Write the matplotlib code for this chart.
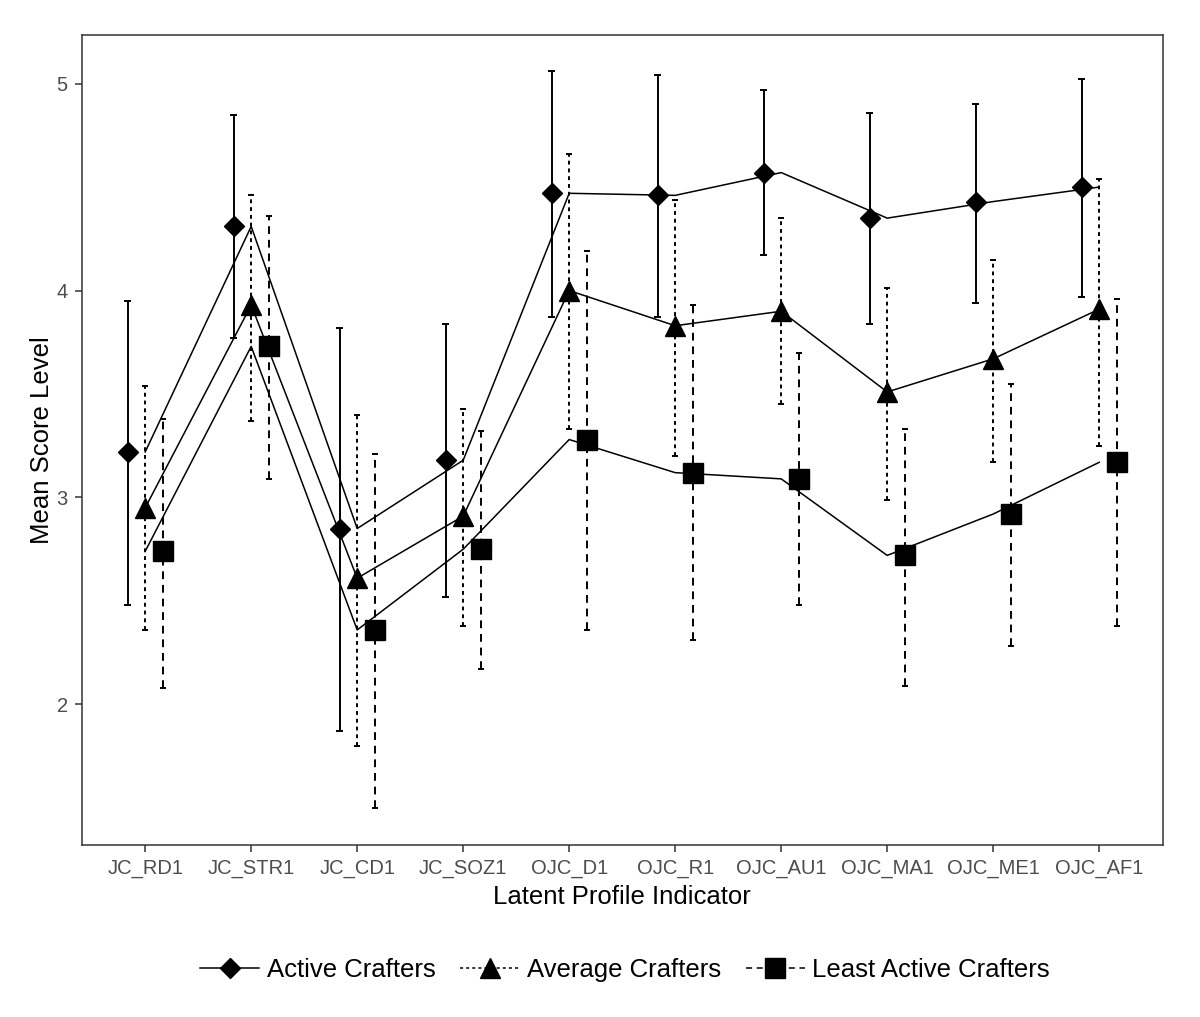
import matplotlib.pyplot as plt
import numpy as np

plt.rcParams['font.family'] = ['Liberation Sans', 'DejaVu Sans']

indicators = ["JC_RD1", "JC_STR1", "JC_CD1", "JC_SOZ1", "OJC_D1",
              "OJC_R1", "OJC_AU1", "OJC_MA1", "OJC_ME1", "OJC_AF1"]
groups = ["Active Crafters", "Average Crafters", "Least Active Crafters"]

active_mean = [3.22, 4.31, 2.85, 3.18, 4.47, 4.46, 4.57, 4.35, 4.43, 4.50]
active_low = [2.48, 3.77, 1.87, 2.52, 3.87, 3.87, 4.17, 3.84, 3.94, 3.97]
active_high = [3.95, 4.85, 3.82, 3.84, 5.06, 5.04, 4.97, 4.86, 4.90, 5.02]

average_mean = [2.95, 3.93, 2.61, 2.91, 4.00, 3.83, 3.90, 3.51, 3.67, 3.91]
average_low = [2.36, 3.37, 1.80, 2.38, 3.33, 3.20, 3.45, 2.99, 3.17, 3.25]
average_high = [3.54, 4.46, 3.40, 3.43, 4.66, 4.44, 4.35, 4.01, 4.15, 4.54]

least_mean = [2.74, 3.73, 2.36, 2.75, 3.28, 3.12, 3.09, 2.72, 2.92, 3.17]
least_low = [2.08, 3.09, 1.50, 2.17, 2.36, 2.31, 2.48, 2.09, 2.28, 2.38]
least_high = [3.38, 4.36, 3.21, 3.32, 4.19, 3.93, 3.70, 3.33, 3.55, 3.96]

means = [active_mean, average_mean, least_mean]
lows = [active_low, average_low, least_low]
highs = [active_high, average_high, least_high]
markers = ["D", "^", "s"]
msizes = [10, 15, 14]
styles = ["-", (0, (2, 2)), (0, (4, 3))]

fig = plt.figure(figsize=(12, 10.17), dpi=100)
ax = fig.add_axes([0.068, 0.169, 0.901, 0.797])

x = np.arange(1, len(indicators) + 1)
dodge = [-1 / 6, 0, 1 / 6]
cap = 0.03

for i in range(3):
    m = np.array(means[i])
    lo = np.array(lows[i])
    hi = np.array(highs[i])
    xd = x + dodge[i]
    # connecting line sits on the undodged positions
    ax.plot(x, m, color="black", lw=1.1, zorder=2)
    ax.vlines(xd, lo, hi, color="black", lw=1.4, linestyles=[styles[i]], zorder=2)
    ax.hlines(lo, xd - cap, xd + cap, color="black", lw=1.4, zorder=2)
    ax.hlines(hi, xd - cap, xd + cap, color="black", lw=1.4, zorder=2)
    ax.plot(xd, m, linestyle="none", marker=markers[i], ms=msizes[i],
            color="black", zorder=3)

ax.set_xlim(0.4, 10.6)
ax.set_ylim(1.32, 5.237)
ax.set_xticks(x)
ax.set_xticklabels(indicators)
ax.set_yticks([2, 3, 4, 5])
ax.tick_params(axis="both", labelsize=14.5, colors="#333333", length=5, width=1.1,
               pad=5)
ax.tick_params(axis="both", labelcolor="#4d4d4d")
for sp in ax.spines.values():
    sp.set_color("#333333")
    sp.set_linewidth(1.1)

ax.set_xlabel("Latent Profile Indicator", fontsize=18.5, labelpad=5)
ax.set_ylabel("Mean Score Level", fontsize=18.5, labelpad=2)

handles = []
for i in range(3):
    h, = ax.plot([], [], color="black", lw=1.1, linestyle=styles[i],
                 marker=markers[i], ms=msizes[i])
    handles.append(h)
fig.legend(handles, groups, loc="center", bbox_to_anchor=(0.521, 0.046),
           ncol=3, frameon=False, fontsize=18.5, handlelength=2.3,
           handletextpad=0.3, columnspacing=0.95)

plt.savefig("out.png", dpi=100)
